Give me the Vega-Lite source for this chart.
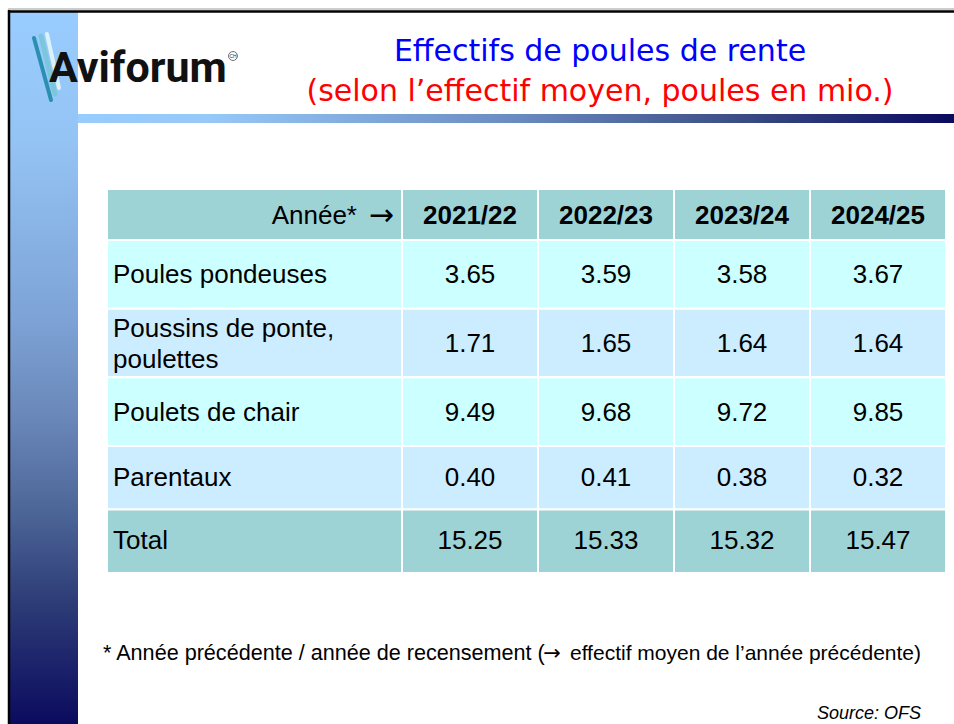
{
  "$schema": "https://vega.github.io/schema/vega-lite/v6.json",
  "width": 954,
  "height": 724,
  "autosize": {"type": "none"},
  "padding": 0,
  "background": "white",
  "config": {"view": {"stroke": null}, "text": {"font": "Liberation Sans"}},
  "title": {
    "text": "Effectifs de poules de rente",
    "subtitle": "(selon l’effectif moyen, poules en mio.)",
    "orient": "top",
    "anchor": "middle",
    "frame": "group",
    "offset": -107,
    "dx": 123,
    "font": "DejaVu Sans",
    "fontSize": 30,
    "fontWeight": "normal",
    "color": "#0000FF",
    "subtitleFont": "DejaVu Sans",
    "subtitleFontSize": 30,
    "subtitleFontWeight": "normal",
    "subtitleColor": "#FF0000",
    "subtitlePadding": 10
  },
  "datasets": {
    "cells": [
      {"row": "Poules pondeuses", "year": "2021/22", "value": 3.65},
      {"row": "Poules pondeuses", "year": "2022/23", "value": 3.59},
      {"row": "Poules pondeuses", "year": "2023/24", "value": 3.58},
      {"row": "Poules pondeuses", "year": "2024/25", "value": 3.67},
      {"row": "Poussins de ponte, poulettes", "year": "2021/22", "value": 1.71},
      {"row": "Poussins de ponte, poulettes", "year": "2022/23", "value": 1.65},
      {"row": "Poussins de ponte, poulettes", "year": "2023/24", "value": 1.64},
      {"row": "Poussins de ponte, poulettes", "year": "2024/25", "value": 1.64},
      {"row": "Poulets de chair", "year": "2021/22", "value": 9.49},
      {"row": "Poulets de chair", "year": "2022/23", "value": 9.68},
      {"row": "Poulets de chair", "year": "2023/24", "value": 9.72},
      {"row": "Poulets de chair", "year": "2024/25", "value": 9.85},
      {"row": "Parentaux", "year": "2021/22", "value": 0.40},
      {"row": "Parentaux", "year": "2022/23", "value": 0.41},
      {"row": "Parentaux", "year": "2023/24", "value": 0.38},
      {"row": "Parentaux", "year": "2024/25", "value": 0.32},
      {"row": "Total", "year": "2021/22", "value": 15.25},
      {"row": "Total", "year": "2022/23", "value": 15.33},
      {"row": "Total", "year": "2023/24", "value": 15.32},
      {"row": "Total", "year": "2024/25", "value": 15.47}
    ],
    "rows": [
      {"row": "Poules pondeuses", "label": "Poules pondeuses"},
      {"row": "Poussins de ponte, poulettes", "label": ["Poussins de ponte,", "poulettes"]},
      {"row": "Poulets de chair", "label": "Poulets de chair"},
      {"row": "Parentaux", "label": "\u2009Parentaux"},
      {"row": "Total", "label": "Total"}
    ],
    "years": [
      {"year": "2021/22"}, {"year": "2022/23"}, {"year": "2023/24"}, {"year": "2024/25"}
    ],
    "head": [{"label": "Année*", "arrow": "→"}]
  },
  "resolve": {"scale": {"x": "independent", "y": "independent", "fill": "independent"}},
  "layer": [
    {
      "data": {"values": [{}]},
      "mark": {"type": "rect", "fill": {"gradient": "linear", "x1": 0, "y1": 0, "x2": 0, "y2": 1, "stops": [
        {"offset": 0, "color": "#99CCFF"},
        {"offset": 0.18, "color": "#94C4F4"},
        {"offset": 0.43, "color": "#7EA3D6"},
        {"offset": 0.57, "color": "#6A87B9"},
        {"offset": 0.70, "color": "#4D6698"},
        {"offset": 0.83, "color": "#2D3C77"},
        {"offset": 1, "color": "#0B0B5E"}
      ]}},
      "encoding": {"x": {"value": 10}, "x2": {"value": 78}, "y": {"value": 12}, "y2": {"value": 724}}
    },
    {
      "data": {"values": [{}]},
      "mark": {"type": "rect", "fill": {"gradient": "linear", "x1": 0, "y1": 0, "x2": 1, "y2": 0, "stops": [
        {"offset": 0, "color": "#99CCFF"},
        {"offset": 0.15, "color": "#96C8F8"},
        {"offset": 0.5, "color": "#6A8BC0"},
        {"offset": 0.75, "color": "#3C4E86"},
        {"offset": 1, "color": "#0A0A5E"}
      ]}},
      "encoding": {"x": {"value": 78}, "x2": {"value": 954}, "y": {"value": 114}, "y2": {"value": 123}}
    },
    {
      "data": {"values": [{}]},
      "mark": {"type": "rule", "color": "#9A9A9A", "strokeWidth": 1},
      "encoding": {"x": {"value": 8}, "x2": {"value": 954}, "y": {"value": 9}}
    },
    {
      "data": {"values": [{}]},
      "mark": {"type": "rule", "color": "#000000", "strokeWidth": 2.5},
      "encoding": {"x": {"value": 8}, "x2": {"value": 954}, "y": {"value": 11.5}}
    },
    {
      "data": {"values": [{}]},
      "mark": {"type": "rule", "color": "#000000", "strokeWidth": 2.5},
      "encoding": {"x": {"value": 9}, "y": {"value": 10}, "y2": {"value": 724}}
    },
    {
      "data": {"values": [{"c": "a"}]},
      "mark": {"type": "rule", "color": "#2A8FB0", "strokeWidth": 4, "strokeCap": "round"},
      "encoding": {"x": {"value": 34}, "y": {"value": 38}, "x2": {"value": 51}, "y2": {"value": 100}}
    },
    {
      "data": {"values": [{"c": "b"}]},
      "mark": {"type": "rule", "color": "#7CC6DC", "strokeWidth": 5, "strokeCap": "round"},
      "encoding": {"x": {"value": 41}, "y": {"value": 36}, "x2": {"value": 55}, "y2": {"value": 94}}
    },
    {
      "data": {"values": [{"c": "c"}]},
      "mark": {"type": "rule", "color": "#DDF1F8", "strokeWidth": 4, "strokeCap": "round"},
      "encoding": {"x": {"value": 47}, "y": {"value": 34}, "x2": {"value": 59}, "y2": {"value": 88}}
    },
    {
      "data": {"values": [{}]},
      "mark": {"type": "text", "text": "Aviforum", "font": "Roboto", "fontSize": 43, "fontWeight": "bold", "align": "left", "baseline": "alphabetic", "color": "#111111"},
      "encoding": {"x": {"value": 49}, "y": {"value": 82}}
    },
    {
      "data": {"values": [{}]},
      "mark": {"type": "point", "shape": "circle", "filled": false, "stroke": "#333333", "strokeWidth": 1, "size": 80},
      "encoding": {"x": {"value": 233}, "y": {"value": 56}}
    },
    {
      "data": {"values": [{}]},
      "mark": {"type": "text", "text": "CH", "fontSize": 5, "align": "center", "baseline": "middle", "color": "#333333"},
      "encoding": {"x": {"value": 233}, "y": {"value": 56}}
    },
    {
      "data": {"values": [{}]},
      "mark": {"type": "text", "text": "* Année précédente / année de recensement (", "fontSize": 21.6, "align": "left", "baseline": "alphabetic", "color": "#000000"},
      "encoding": {"x": {"value": 103}, "y": {"value": 660}}
    },
    {
      "data": {"values": [{}]},
      "mark": {"type": "text", "text": "→", "font": "DejaVu Sans", "fontSize": 21, "align": "center", "baseline": "alphabetic", "color": "#000000"},
      "encoding": {"x": {"value": 552}, "y": {"value": 660}}
    },
    {
      "data": {"values": [{}]},
      "mark": {"type": "text", "text": "effectif moyen de l’année précédente)", "fontSize": 21, "align": "right", "baseline": "alphabetic", "color": "#000000"},
      "encoding": {"x": {"value": 921}, "y": {"value": 660}}
    },
    {
      "data": {"values": [{}]},
      "mark": {"type": "text", "text": "Source: OFS", "fontSize": 18, "fontStyle": "italic", "align": "right", "baseline": "alphabetic", "color": "#000000"},
      "encoding": {"x": {"value": 921}, "y": {"value": 719}}
    },
    {
      "data": {"name": "years"},
      "encoding": {
        "x": {"field": "year", "type": "nominal", "scale": {"domain": ["2021/22", "2022/23", "2023/24", "2024/25"], "range": [402, 946], "paddingInner": 0, "paddingOuter": 0}, "axis": null},
        "y": {"datum": "h", "type": "nominal", "scale": {"domain": ["h"], "range": [189, 240], "paddingInner": 0, "paddingOuter": 0}, "axis": null}
      },
      "layer": [
        {"mark": {"type": "rect", "fill": "#9ED3D6", "stroke": "white", "strokeWidth": 2}},
        {"mark": {"type": "text", "fontSize": 26, "fontWeight": "bold", "align": "center", "baseline": "middle", "dy": 1, "color": "#000000"}, "encoding": {"text": {"field": "year"}}}
      ]
    },
    {
      "data": {"name": "head"},
      "encoding": {
        "x": {"datum": "lbl", "type": "nominal", "scale": {"domain": ["lbl"], "range": [107, 402], "paddingInner": 0, "paddingOuter": 0}, "axis": null},
        "y": {"datum": "h", "type": "nominal", "scale": {"domain": ["h"], "range": [189, 240], "paddingInner": 0, "paddingOuter": 0}, "axis": null}
      },
      "layer": [
        {"mark": {"type": "rect", "fill": "#9ED3D6", "stroke": "white", "strokeWidth": 2}},
        {"mark": {"type": "text", "fontSize": 26, "align": "right", "baseline": "middle", "dx": -45, "dy": 1, "color": "#000000"}, "encoding": {"text": {"field": "label"}, "x": {"datum": "lbl", "type": "nominal", "bandPosition": 1, "scale": {"domain": ["lbl"], "range": [107, 402], "paddingInner": 0, "paddingOuter": 0}, "axis": null}}},
        {"mark": {"type": "text", "font": "DejaVu Sans", "fontSize": 30, "align": "right", "baseline": "middle", "dx": -8, "dy": 1, "color": "#000000"}, "encoding": {"text": {"field": "arrow"}, "x": {"datum": "lbl", "type": "nominal", "bandPosition": 1, "scale": {"domain": ["lbl"], "range": [107, 402], "paddingInner": 0, "paddingOuter": 0}, "axis": null}}}
      ]
    },
    {
      "data": {"name": "cells"},
      "transform": [{"filter": {"field": "row", "oneOf": ["Poules pondeuses", "Poussins de ponte, poulettes", "Poulets de chair"]}}],
      "encoding": {
        "x": {"field": "year", "type": "nominal", "scale": {"domain": ["2021/22", "2022/23", "2023/24", "2024/25"], "range": [402, 946], "paddingInner": 0, "paddingOuter": 0}, "axis": null},
        "y": {"field": "row", "type": "nominal", "sort": null, "scale": {"domain": ["Poules pondeuses", "Poussins de ponte, poulettes", "Poulets de chair"], "range": [240, 446], "paddingInner": 0, "paddingOuter": 0}, "axis": null}
      },
      "layer": [
        {"mark": {"type": "rect", "stroke": "white", "strokeWidth": 2}, "encoding": {"fill": {"field": "row", "type": "nominal", "legend": null, "scale": {"domain": ["Poules pondeuses", "Poussins de ponte, poulettes", "Poulets de chair"], "range": ["#CCFFFF", "#CCECFF", "#CCFFFF"]}}}},
        {"mark": {"type": "text", "fontSize": 26, "align": "center", "baseline": "middle", "dy": 1, "color": "#000000"}, "encoding": {"text": {"field": "value", "type": "quantitative", "format": ".2f"}}}
      ]
    },
    {
      "data": {"name": "cells"},
      "transform": [{"filter": {"field": "row", "oneOf": ["Parentaux", "Total"]}}],
      "encoding": {
        "x": {"field": "year", "type": "nominal", "scale": {"domain": ["2021/22", "2022/23", "2023/24", "2024/25"], "range": [402, 946], "paddingInner": 0, "paddingOuter": 0}, "axis": null},
        "y": {"field": "row", "type": "nominal", "sort": null, "scale": {"domain": ["Parentaux", "Total"], "range": [446, 573], "paddingInner": 0, "paddingOuter": 0}, "axis": null}
      },
      "layer": [
        {"mark": {"type": "rect", "stroke": "white", "strokeWidth": 2}, "encoding": {"fill": {"field": "row", "type": "nominal", "legend": null, "scale": {"domain": ["Parentaux", "Total"], "range": ["#CCECFF", "#9ED3D6"]}}}},
        {"mark": {"type": "text", "fontSize": 26, "align": "center", "baseline": "middle", "dy": 0, "color": "#000000"}, "encoding": {"text": {"field": "value", "type": "quantitative", "format": ".2f"}}}
      ]
    },
    {
      "data": {"name": "rows"},
      "transform": [{"filter": {"field": "row", "oneOf": ["Poules pondeuses", "Poussins de ponte, poulettes", "Poulets de chair"]}}],
      "encoding": {
        "x": {"datum": "lbl", "type": "nominal", "scale": {"domain": ["lbl"], "range": [107, 402], "paddingInner": 0, "paddingOuter": 0}, "axis": null},
        "y": {"field": "row", "type": "nominal", "sort": null, "scale": {"domain": ["Poules pondeuses", "Poussins de ponte, poulettes", "Poulets de chair"], "range": [240, 446], "paddingInner": 0, "paddingOuter": 0}, "axis": null}
      },
      "layer": [
        {"mark": {"type": "rect", "stroke": "white", "strokeWidth": 2}, "encoding": {"fill": {"field": "row", "type": "nominal", "legend": null, "scale": {"domain": ["Poules pondeuses", "Poussins de ponte, poulettes", "Poulets de chair"], "range": ["#CCFFFF", "#CCECFF", "#CCFFFF"]}}}},
        {"transform": [{"filter": {"field": "row", "oneOf": ["Poules pondeuses", "Poulets de chair"]}}], "mark": {"type": "text", "fontSize": 26, "align": "left", "baseline": "middle", "dx": 6, "dy": 1, "color": "#000000"}, "encoding": {"text": {"field": "label"}, "x": {"datum": "lbl", "type": "nominal", "bandPosition": 0, "scale": {"domain": ["lbl"], "range": [107, 402], "paddingInner": 0, "paddingOuter": 0}, "axis": null}}},
        {"transform": [{"filter": {"field": "row", "equal": "Poussins de ponte, poulettes"}}], "mark": {"type": "text", "fontSize": 26, "align": "left", "baseline": "middle", "dx": 6, "dy": -14.5, "lineHeight": 31, "color": "#000000"}, "encoding": {"text": {"field": "label"}, "x": {"datum": "lbl", "type": "nominal", "bandPosition": 0, "scale": {"domain": ["lbl"], "range": [107, 402], "paddingInner": 0, "paddingOuter": 0}, "axis": null}}}
      ]
    },
    {
      "data": {"name": "rows"},
      "transform": [{"filter": {"field": "row", "oneOf": ["Parentaux", "Total"]}}],
      "encoding": {
        "x": {"datum": "lbl", "type": "nominal", "scale": {"domain": ["lbl"], "range": [107, 402], "paddingInner": 0, "paddingOuter": 0}, "axis": null},
        "y": {"field": "row", "type": "nominal", "sort": null, "scale": {"domain": ["Parentaux", "Total"], "range": [446, 573], "paddingInner": 0, "paddingOuter": 0}, "axis": null}
      },
      "layer": [
        {"mark": {"type": "rect", "stroke": "white", "strokeWidth": 2}, "encoding": {"fill": {"field": "row", "type": "nominal", "legend": null, "scale": {"domain": ["Parentaux", "Total"], "range": ["#CCECFF", "#9ED3D6"]}}}},
        {"mark": {"type": "text", "fontSize": 26, "align": "left", "baseline": "middle", "dx": 6, "dy": 0, "color": "#000000"}, "encoding": {"text": {"field": "label"}, "x": {"datum": "lbl", "type": "nominal", "bandPosition": 0, "scale": {"domain": ["lbl"], "range": [107, 402], "paddingInner": 0, "paddingOuter": 0}, "axis": null}}}
      ]
    }
  ]
}
